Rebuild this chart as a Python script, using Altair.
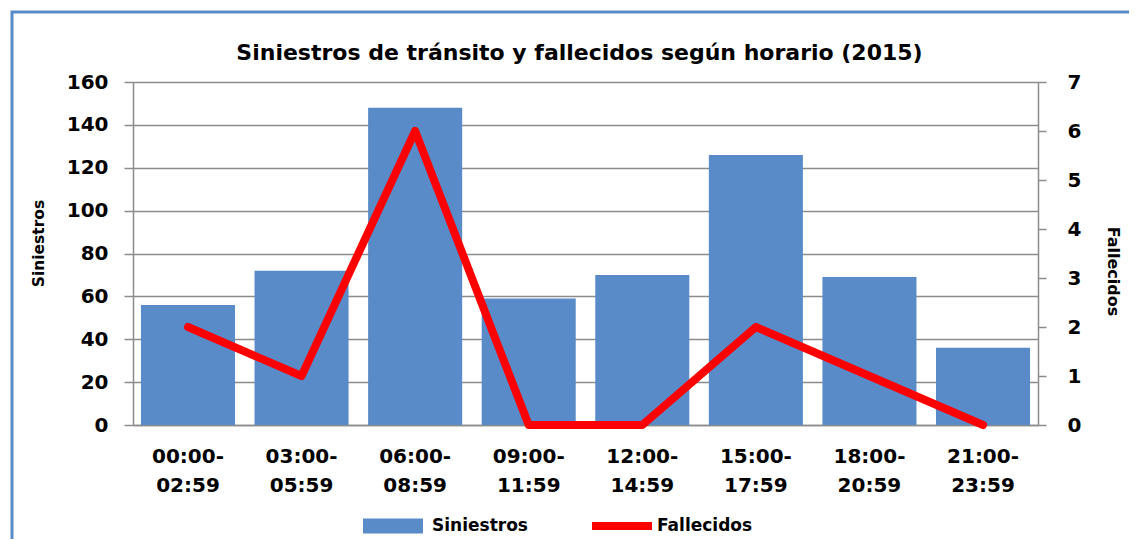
import altair as alt
import pandas as pd

horarios = ["00:00-02:59", "03:00-05:59", "06:00-08:59", "09:00-11:59",
            "12:00-14:59", "15:00-17:59", "18:00-20:59", "21:00-23:59"]
siniestros = [56, 72, 148, 59, 70, 126, 69, 36]
fallecidos = [2, 1, 6, 0, 0, 2, 1, 0]
ticks_left = [0, 20, 40, 60, 80, 100, 120, 140, 160]
ticks_right = [0, 1, 2, 3, 4, 5, 6, 7]

df = pd.DataFrame({
    "horario": horarios,
    "siniestros": siniestros,
    "fallecidos": fallecidos,
    "s": "Siniestros",
    "f": "Fallecidos",
})

FONT = "DejaVu Sans"
BLUE = "#5A8BC9"
RED = "#FF0000"
GRID = "#8C8C8C"

x = alt.X(
    "horario:N", sort=horarios,
    scale=alt.Scale(paddingInner=0.172, paddingOuter=0.07),
    axis=alt.Axis(
        title=None, labelAngle=0,
        labelExpr="[slice(datum.label,0,6), slice(datum.label,6)]",
        labelFont=FONT, labelFontWeight="bold", labelFontSize=20,
        labelColor="black", labelLineHeight=29, labelPadding=21,
        labelBaseline="top",
        ticks=False, domainColor=GRID, domainWidth=1.5,
    ),
)

yL = alt.Y(
    "siniestros:Q",
    scale=alt.Scale(domain=[0, 160]),
    axis=alt.Axis(
        title="Siniestros", values=ticks_left,
        labelFont=FONT, labelFontWeight="bold", labelFontSize=20,
        labelColor="black", labelPadding=16,
        tickSize=9, tickColor=GRID, tickWidth=1.5,
        domainColor=GRID, domainWidth=1.5,
        grid=True, gridColor=GRID, gridWidth=1.5,
        titleFont=FONT, titleFontWeight="bold", titleFontSize=15.5,
        titleColor="black", titleX=-90, titleY=161, titleBaseline="alphabetic",
        titleAngle=270,
    ),
)

yR = alt.Y(
    "fallecidos:Q",
    scale=alt.Scale(domain=[0, 7]),
    axis=alt.Axis(
        orient="right", title="Fallecidos", values=ticks_right,
        labelFont=FONT, labelFontWeight="bold", labelFontSize=20,
        labelColor="black", labelPadding=21,
        tickSize=8, tickColor=GRID, tickWidth=1.5,
        domainColor=GRID, domainWidth=1.5, grid=False,
        titleFont=FONT, titleFontWeight="bold", titleFontSize=16,
        titleColor="black", titleX=69, titleY=189, titleBaseline="alphabetic",
        titleAngle=90,
    ),
)

bars = alt.Chart(df).mark_bar().encode(
    x=x, y=yL,
    fill=alt.Fill(
        "s:N", scale=alt.Scale(range=[BLUE]),
        legend=alt.Legend(
            title=None, orient="none", legendX=230, legendY=414,
            symbolType="M-1,-0.25L1,-0.25L1,0.25L-1,0.25Z", symbolSize=3600,
            symbolStrokeWidth=0, symbolOpacity=1,
            labelFont=FONT, labelFontSize=17, labelFontWeight="bold",
            labelColor="black", labelOffset=9,
        ),
    ),
)

line = alt.Chart(df).mark_line(strokeWidth=8, strokeCap="round", strokeJoin="round").encode(
    x=x, y=yR,
    stroke=alt.Stroke(
        "f:N", scale=alt.Scale(range=[RED]),
        legend=alt.Legend(
            title=None, orient="none", legendX=455, legendY=410,
            symbolType="stroke", symbolSize=3600, symbolStrokeWidth=8,
            labelFont=FONT, labelFontSize=17, labelFontWeight="bold",
            labelColor="black", labelOffset=1,
        ),
    ),
)

frame = alt.Chart(alt.Data(values=[{"a": 1}])).mark_rect(
    fillOpacity=0, stroke=BLUE, strokeWidth=3
).encode(
    x=alt.value(-121), x2=alt.value(1100), y=alt.value(-70), y2=alt.value(520)
)

chart = alt.layer(bars, line, frame).resolve_scale(y="independent").properties(
    width=905, height=343,
    autosize=alt.AutoSizeParams(type="none"),
    padding={"left": 125, "top": 74, "right": 91, "bottom": 114},
    title=alt.TitleParams(
        text="Siniestros de tránsito y fallecidos según horario (2015)",
        font=FONT, fontSize=22, fontWeight="bold", color="black",
        anchor="middle", baseline="alphabetic", offset=0, dy=71.5, dx=-6,
        frame="group",
    ),
).configure_view(stroke=None).configure(background="white")

chart.save("out.html", embed_options={"renderer": "svg", "actions": False})
